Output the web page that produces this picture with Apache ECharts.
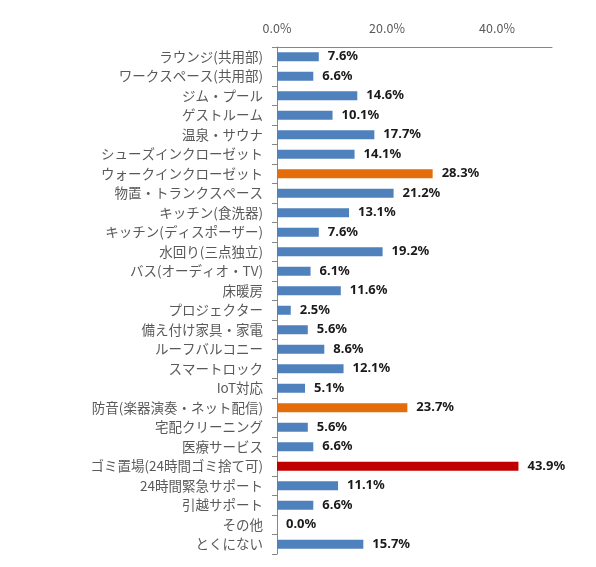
<!DOCTYPE html>
<html>
<head>
<meta charset="utf-8">
<script src="https://cdn.jsdelivr.net/npm/echarts@6.0.0/dist/echarts.min.js"></script>
<style>
  html, body { margin: 0; padding: 0; background: #fff; }
  #chart { width: 596px; height: 567px; }
</style>
</head>
<body>
<div id="chart"></div>
<script>
// categories top to bottom
const categories = [
  "ラウンジ(共用部)", "ワークスペース(共用部)", "ジム・プール", "ゲストルーム",
  "温泉・サウナ", "シューズインクローゼット", "ウォークインクローゼット",
  "物置・トランクスペース", "キッチン(食洗器)", "キッチン(ディスポーザー)",
  "水回り(三点独立)", "バス(オーディオ・TV)", "床暖房", "プロジェクター",
  "備え付け家具・家電", "ルーフバルコニー", "スマートロック", "IoT対応",
  "防音(楽器演奏・ネット配信)", "宅配クリーニング", "医療サービス",
  "ゴミ置場(24時間ゴミ捨て可)", "24時間緊急サポート", "引越サポート",
  "その他", "とくにない"
];
const values = [
  7.6, 6.6, 14.6, 10.1, 17.7, 14.1, 28.3, 21.2, 13.1, 7.6,
  19.2, 6.1, 11.6, 2.5, 5.6, 8.6, 12.1, 5.1, 23.7, 5.6,
  6.6, 43.9, 11.1, 6.6, 0.0, 15.7
];
// highlight groups: 0 = normal, 1 = orange, 2 = red
const highlight = [
  0, 0, 0, 0, 0, 0, 1, 0, 0, 0,
  0, 0, 0, 0, 0, 0, 0, 0, 1, 0,
  0, 2, 0, 0, 0, 0
];
const xTicks = [0, 20, 40];

const palette = ["#4F81BD", "#E46C0A", "#C00000"];

const chart = echarts.init(document.getElementById("chart"));

chart.setOption({
  animation: false,
  grid: { left: 277, right: 44, top: 47, bottom: 13, containLabel: false },
  xAxis: {
    type: "value",
    position: "top",
    min: 0,
    max: 50,
    interval: 20,
    axisLine: { show: true, lineStyle: { color: "#868686", width: 1 } },
    axisTick: { show: false },
    splitLine: { show: false },
    axisLabel: {
      color: "#595959",
      fontSize: 12.5,
      fontFamily: "Noto Sans CJK JP",
      margin: 12,
      showMaxLabel: false,
      formatter: function (v) {
        return xTicks.indexOf(v) >= 0 ? v.toFixed(1) + "%" : "";
      }
    }
  },
  yAxis: {
    type: "category",
    inverse: true,
    data: categories,
    axisLine: { show: true, lineStyle: { color: "#868686", width: 1 } },
    axisTick: { show: true, length: 5, lineStyle: { color: "#868686" } },
    axisLabel: {
      color: "#595959",
      fontSize: 13.5,
      fontFamily: "Noto Sans CJK JP",
      margin: 14,
      interval: 0
    }
  },
  series: [{
    type: "bar",
    data: values.map((v, i) => ({
      value: v,
      itemStyle: { color: palette[highlight[i]] }
    })),
    barWidth: 9,
    label: {
      show: true,
      position: "right",
      distance: 9,
      color: "#1a1a1a",
      fontWeight: "bold",
      fontSize: 13,
      fontFamily: "Noto Sans",
      formatter: p => p.value.toFixed(1) + "%"
    }
  }]
});
</script>
</body>
</html>
